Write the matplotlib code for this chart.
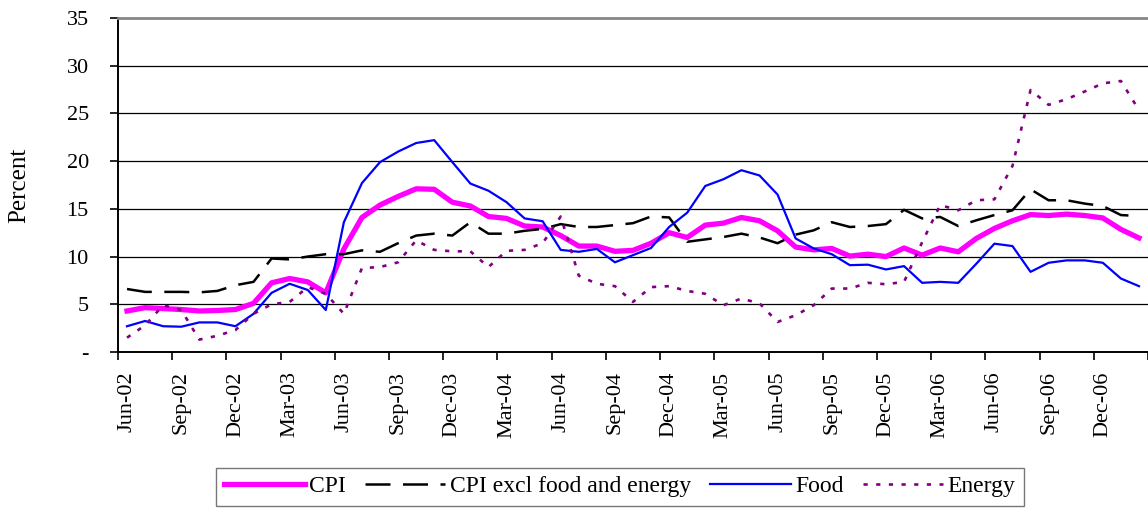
import numpy as np
import matplotlib
matplotlib.use("Agg")
import matplotlib.pyplot as plt

plt.rcParams['font.family'] = ['Liberation Serif', 'DejaVu Serif']

# monthly inflation, Jun-02 .. Feb-07 (percent)
cpi = [4.3, 4.65, 4.55, 4.45, 4.3, 4.35, 4.45, 5.1, 7.25, 7.7, 7.35, 6.2,
       10.8, 14.1, 15.4, 16.3, 17.1, 17.05, 15.7, 15.3, 14.2, 14.0, 13.2, 13.1,
       12.2, 11.1, 11.1, 10.55, 10.65, 11.4, 12.5, 12.0, 13.3, 13.5, 14.1, 13.75,
       12.7, 11.0, 10.7, 10.85, 10.05, 10.25, 10.0, 10.9, 10.15, 10.9, 10.5, 11.9,
       12.95, 13.75, 14.4, 14.3, 14.45, 14.3, 14.05, 12.85, 11.95]
core = [6.6, 6.3, 6.3, 6.3, 6.25, 6.4, 7.0, 7.35, 9.8, 9.7, 10.0, 10.25,
        10.25, 10.65, 10.5, 11.4, 12.2, 12.4, 12.2, 13.6, 12.4, 12.4, 12.7, 12.9,
        13.4, 13.1, 13.1, 13.3, 13.5, 14.2, 14.1, 11.55, 11.8, 12.05, 12.4, 12.0,
        11.4, 12.3, 12.75, 13.6, 13.1, 13.2, 13.4, 14.9, 14.0, 14.15, 13.2, 13.8,
        14.35, 14.85, 17.05, 15.9, 15.9, 15.55, 15.3, 14.35, 14.25]
food = [2.7, 3.25, 2.7, 2.65, 3.1, 3.1, 2.7, 4.0, 6.2, 7.15, 6.5, 4.4,
        13.6, 17.7, 19.9, 21.0, 21.9, 22.2, 19.9, 17.65, 16.9, 15.7, 14.0, 13.7,
        10.7, 10.5, 10.8, 9.4, 10.15, 10.9, 13.1, 14.6, 17.4, 18.1, 19.05, 18.5,
        16.5, 11.9, 10.85, 10.25, 9.1, 9.15, 8.65, 9.0, 7.25, 7.35, 7.25, 9.25,
        11.35, 11.1, 8.4, 9.35, 9.6, 9.6, 9.35, 7.7, 6.9]
energy = [1.5, 2.8, 4.9, 4.4, 1.3, 1.7, 2.3, 4.0, 5.0, 5.25, 6.8, 6.1,
          4.0, 8.8, 8.9, 9.4, 11.7, 10.7, 10.55, 10.55, 8.9, 10.6, 10.7, 11.4,
          14.2, 8.0, 7.15, 6.9, 5.25, 6.8, 6.9, 6.4, 6.1, 4.9, 5.6, 5.1,
          3.15, 3.85, 4.9, 6.65, 6.65, 7.25, 7.1, 7.35, 11.5, 15.4, 14.85, 15.9,
          16.0, 19.5, 27.45, 25.9, 26.5, 27.3, 28.15, 28.4, 25.35]

tick_labels = ["Jun-02", "Sep-02", "Dec-02", "Mar-03", "Jun-03", "Sep-03", "Dec-03",
               "Mar-04", "Jun-04", "Sep-04", "Dec-04", "Mar-05", "Jun-05", "Sep-05",
               "Dec-05", "Mar-06", "Jun-06", "Sep-06", "Dec-06"]
y_ticks = [0, 5, 10, 15, 20, 25, 30, 35]
y_labels = ["-", "5", "10", "15", "20", "25", "30", "35"]

x = np.arange(len(cpi))

fig = plt.figure(figsize=(11.48, 5.08), dpi=100)
ax = fig.add_axes([118 / 1148, 156 / 508, 1030 / 1148, 334 / 508])

ax.plot(x, cpi, color='#ff00ff', lw=3.8, solid_joinstyle='round', label='CPI', zorder=3)
ax.plot(x, core, color='black', lw=1.8, dashes=(10, 5), label='CPI excl food and energy', zorder=4)
ax.plot(x, food, color='#0000ff', lw=1.6, label='Food', zorder=4)
ax.plot(x, energy, color='#800080', lw=1.9, dashes=(1.6, 3.2), label='Energy', zorder=4)

ax.set_xlim(-0.5, len(cpi) - 0.5)
ax.set_ylim(0, 35)

# ticks at category boundaries, labels at category centres
ax.set_xticks(np.arange(-0.5, len(cpi), 3))
ax.set_xticklabels([])
ax.set_xticks(np.arange(0, len(cpi), 3), minor=True)
ax.set_xticklabels(tick_labels, minor=True, rotation=90, fontsize=16)
ax.tick_params(axis='x', which='major', direction='out', length=6, width=1.2, color='black')
ax.tick_params(axis='x', which='minor', length=0, pad=14)

ax.set_yticks(y_ticks)
ax.set_yticklabels(y_labels, fontsize=16)
ax.tick_params(axis='y', direction='out', length=6, width=1.2, pad=15)
ax.set_ylabel("Percent", fontsize=18)
ax.yaxis.set_label_coords(-0.085, 0.5)

ax.grid(axis='y', color='black', lw=0.9)
ax.set_axisbelow(True)

ax.spines['right'].set_visible(False)
ax.spines['top'].set_color('#888888')
ax.spines['top'].set_linewidth(2)
ax.spines['left'].set_linewidth(1.4)
ax.spines['bottom'].set_linewidth(1.4)

leg = fig.legend(loc='lower center', bbox_to_anchor=(620 / 1148, 0.0), ncol=4,
                 fontsize=17, frameon=True, fancybox=False, edgecolor='#555555',
                 handlelength=3.4, handletextpad=0.2, columnspacing=0.8,
                 borderpad=0.35, borderaxespad=0.1)
leg.get_frame().set_linewidth(1.0)

fig.savefig("out.png", dpi=100)
